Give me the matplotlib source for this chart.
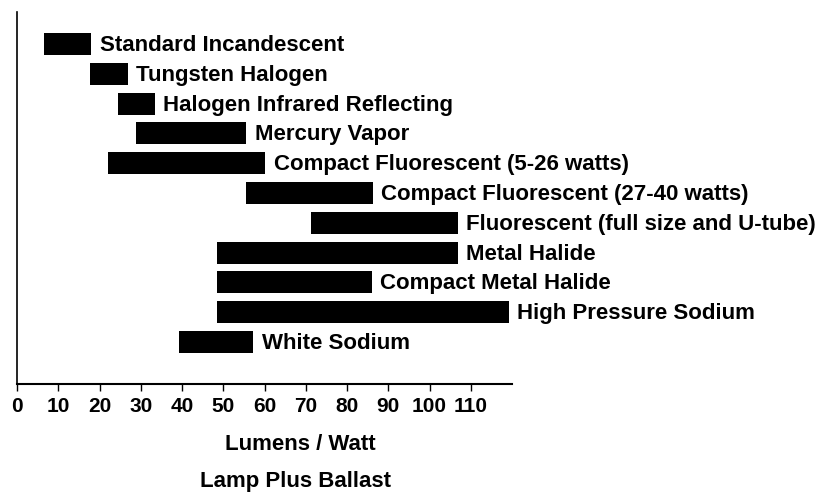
import matplotlib.pyplot as plt

# Lamp types and efficacy ranges (lumens per watt, lamp plus ballast)
lamps = ['Standard Incandescent', 'Tungsten Halogen', 'Halogen Infrared Reflecting',
         'Mercury Vapor', 'Compact Fluorescent (5-26 watts)', 'Compact Fluorescent (27-40 watts)',
         'Fluorescent (full size and U-tube)', 'Metal Halide', 'Compact Metal Halide',
         'High Pressure Sodium', 'White Sodium']
low = [6.5, 17.6, 24.4, 28.8, 22, 55.4, 71.3, 48.4, 48.4, 48.4, 39.2]
high = [18, 26.8, 33.4, 55.6, 60.2, 86.3, 106.9, 106.9, 86.1, 119.2, 57.3]
ticks = [0, 10, 20, 30, 40, 50, 60, 70, 80, 90, 100, 110]

plt.rcParams['font.family'] = ['Liberation Sans', 'DejaVu Sans']
plt.rcParams['font.weight'] = 'bold'

fig = plt.figure(figsize=(8.23, 4.95), dpi=100)
ax = fig.add_axes([0.0207, 0.2242, 0.6015, 0.7515])

rows = range(len(lamps))
widths = [h - l for l, h in zip(low, high)]
ax.barh(rows, widths, left=low, height=0.74, color='black')

for i, name in enumerate(lamps):
    ax.text(high[i] + 2.0, i + 0.05, name, va='center', ha='left', fontsize=16, fontweight='bold')

ax.set_xlim(0, 120)
ax.set_ylim(11.41, -1.07)
ax.set_xticks(ticks)
ax.set_xticklabels([str(t) for t in ticks], fontsize=15, fontweight='bold')
ax.set_yticks([])
ax.tick_params(axis='x', length=5, width=1, pad=4)

for s in ['top', 'right']:
    ax.spines[s].set_visible(False)
ax.spines['left'].set_linewidth(1.2)
ax.spines['bottom'].set_linewidth(1.5)

fig.text(225 / 823, 1 - 450 / 495, 'Lumens / Watt', ha='left', va='baseline',
         fontsize=16, fontweight='bold')
fig.text(200 / 823, 1 - 487 / 495, 'Lamp Plus Ballast', ha='left', va='baseline',
         fontsize=16, fontweight='bold')

fig.savefig('out.png', dpi=100)
